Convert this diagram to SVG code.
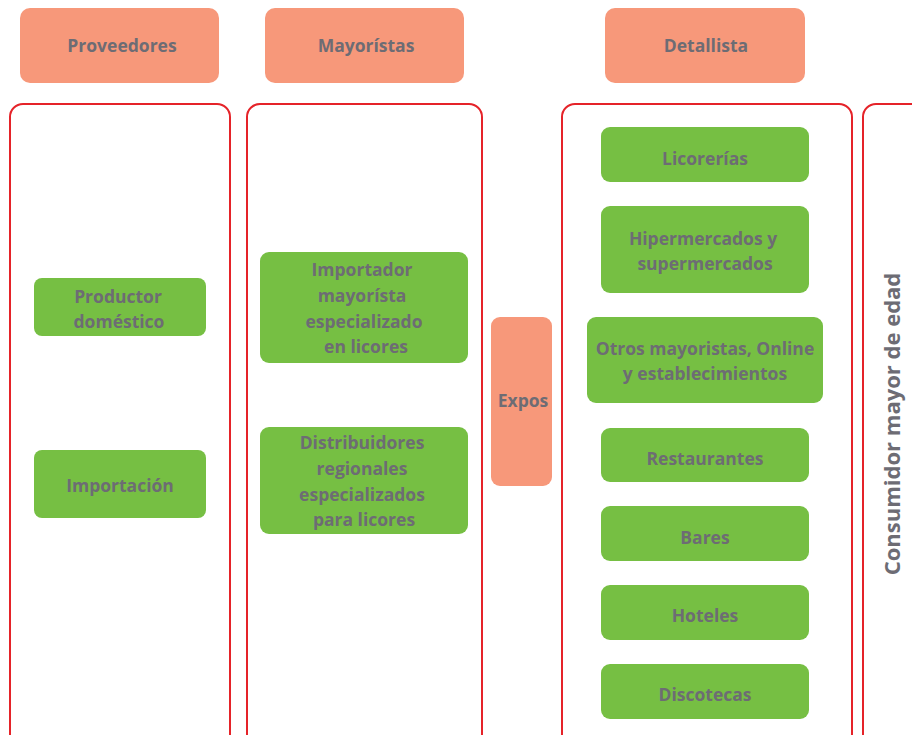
<svg xmlns="http://www.w3.org/2000/svg" width="912" height="735" viewBox="0 0 912 735">
<style>
.hdr{fill:#f7987a}
.col{fill:#fff;stroke:#e52329;stroke-width:2}
.g{fill:#76bf43}
.t{font-family:"Open Sans","Liberation Sans",sans-serif;font-weight:700;font-size:17.5px;fill:#6d6c74;text-anchor:middle}
</style>
<rect width="912" height="735" fill="#fff"/>
<g id="hdr-proveedores"><rect class="hdr" x="20" y="8" width="199" height="75" rx="10"/><text class="t" x="122" y="52">Proveedores</text></g>
<g id="hdr-mayoristas"><rect class="hdr" x="265" y="8" width="199" height="75" rx="10"/><text class="t" x="366" y="52">Mayorístas</text></g>
<g id="hdr-detallista"><rect class="hdr" x="605" y="8" width="200" height="75" rx="10"/><text class="t" x="706" y="52">Detallista</text></g>

<g id="col-1"><rect class="col" x="10" y="104" width="220" height="660" rx="13"/></g>
<g id="col-2"><rect class="col" x="247" y="104" width="235" height="660" rx="13"/></g>
<g id="col-3"><rect class="col" x="562" y="104" width="290" height="660" rx="13"/></g>
<g id="col-4"><rect class="col" x="863" y="104" width="80" height="660" rx="13"/>
<text class="t" style="font-size:22px" transform="translate(900,424) rotate(-90)">Consumidor mayor de edad</text></g>

<g id="n-productor"><rect class="g" x="34" y="278" width="172" height="58" rx="8"/><text class="t" x="118" y="303">Productor</text><text class="t" x="119" y="328">doméstico</text></g>
<g id="n-importacion"><rect class="g" x="34" y="450" width="172" height="68" rx="8"/><text class="t" x="120" y="492">Importación</text></g>

<g id="n-importador"><rect class="g" x="260" y="252" width="208" height="111" rx="9"/>
<text class="t" x="362" y="276">Importador</text><text class="t" x="362" y="302">mayorísta</text><text class="t" x="364" y="328">especializado</text><text class="t" x="366" y="353">en licores</text></g>
<g id="n-distribuidores"><rect class="g" x="260" y="427" width="208" height="107" rx="9"/>
<text class="t" x="362" y="449">Distribuidores</text><text class="t" x="362" y="475">regionales</text><text class="t" x="362" y="501">especializados</text><text class="t" x="364" y="526">para licores</text></g>

<g id="n-expos"><rect class="hdr" x="491" y="317" width="61" height="169" rx="9"/><text class="t" x="523" y="407">Expos</text></g>

<g id="n-licorerias"><rect class="g" x="601" y="127" width="208" height="55" rx="9"/><text class="t" x="705" y="165">Licorerías</text></g>
<g id="n-hiper"><rect class="g" x="601" y="206" width="208" height="87" rx="9"/><text class="t" x="703" y="245">Hipermercados y</text><text class="t" x="705" y="270">supermercados</text></g>
<g id="n-otros"><rect class="g" x="587" y="317" width="236" height="86" rx="9"/><text class="t" x="705" y="355">Otros mayoristas, Online</text><text class="t" x="705" y="380">y establecimientos</text></g>
<g id="n-restaurantes"><rect class="g" x="601" y="428" width="208" height="54" rx="9"/><text class="t" x="705" y="465">Restaurantes</text></g>
<g id="n-bares"><rect class="g" x="601" y="506" width="208" height="55" rx="9"/><text class="t" x="705" y="544">Bares</text></g>
<g id="n-hoteles"><rect class="g" x="601" y="585" width="208" height="55" rx="9"/><text class="t" x="705" y="622">Hoteles</text></g>
<g id="n-discotecas"><rect class="g" x="601" y="664" width="208" height="55" rx="9"/><text class="t" x="705" y="701">Discotecas</text></g>

<g id="connectors"></g>
</svg>
